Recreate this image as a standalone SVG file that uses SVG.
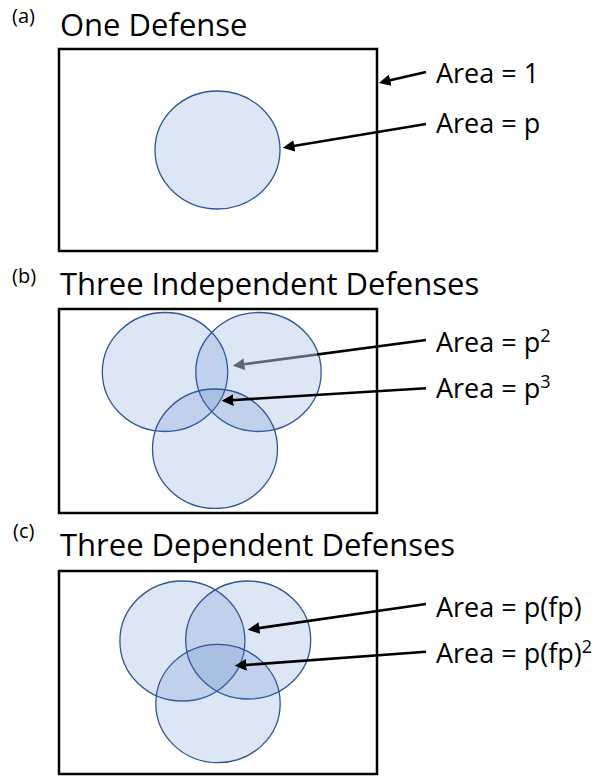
<svg xmlns="http://www.w3.org/2000/svg" width="597" height="776" viewBox="0 0 597 776">
<style>
text{font-family:"Open Sans","Liberation Sans",sans-serif;fill:#000}
.tag{font-size:20px}
.title{font-size:31px}
.lbl{font-size:27px}
.sup{font-size:18px}
.frame{fill:#fff;stroke:#000;stroke-width:2.5}
.ell{fill:#4472c4;fill-opacity:0.18;stroke:#2f5597;stroke-width:1.3}
.arr{fill:none;stroke:#000;stroke-width:2.6;marker-end:url(#ah)}
</style>
<defs>
<marker id="ah" viewBox="0 0 10 10" refX="2" refY="5" markerWidth="4.5" markerHeight="4.5" orient="auto" markerUnits="strokeWidth"><path d="M0,0 L10,5 L0,10 z" fill="#000"/></marker>
<marker id="ahg" viewBox="0 0 10 10" refX="2" refY="5" markerWidth="4.5" markerHeight="4.5" orient="auto" markerUnits="strokeWidth"><path d="M0,0 L10,5 L0,10 z" fill="#5e6670"/></marker>
<linearGradient id="gp2" gradientUnits="userSpaceOnUse" x1="426" y1="340" x2="231" y2="366">
<stop offset="0" stop-color="#000"/><stop offset="0.56" stop-color="#000"/><stop offset="0.56" stop-color="#5e6670"/><stop offset="1" stop-color="#5e6670"/>
</linearGradient>
</defs>

<g id="panel-a">
<text class="tag" x="12" y="23">(a)</text>
<text class="title" x="60" y="36">One Defense</text>
<rect class="frame" x="59" y="49" width="318" height="202"/>
<ellipse id="a-circle" class="ell" cx="217.5" cy="150" rx="62.5" ry="59"/>
<text class="lbl" x="436" y="83">Area = 1</text>
<text class="lbl" x="436" y="133">Area = p</text>
</g>

<g id="panel-b">
<text class="tag" x="12" y="283">(b)</text>
<text class="title" x="60" y="295">Three Independent Defenses</text>
<rect class="frame" x="59" y="309" width="318" height="204"/>
<ellipse id="b-c1" class="ell" cx="165" cy="372" rx="62.7" ry="59.5"/>
<ellipse id="b-c2" class="ell" cx="258.5" cy="372" rx="62.7" ry="59.5"/>
<ellipse id="b-c3" class="ell" cx="215" cy="448.7" rx="62.5" ry="59.7"/>
<text class="lbl" x="436" y="352">Area = p<tspan class="sup" dy="-10">2</tspan></text>
<text class="lbl" x="436" y="398">Area = p<tspan class="sup" dy="-10">3</tspan></text>
</g>

<g id="panel-c">
<text class="tag" x="13" y="538">(c)</text>
<text class="title" x="60" y="556">Three Dependent Defenses</text>
<rect class="frame" x="59" y="571" width="318" height="203"/>
<ellipse id="c-c1" class="ell" cx="182.4" cy="641" rx="62.5" ry="60"/>
<ellipse id="c-c2" class="ell" cx="248.2" cy="640" rx="62.5" ry="59"/>
<ellipse id="c-c3" class="ell" cx="218" cy="703.5" rx="62.2" ry="59.2"/>
<text class="lbl" x="436" y="617">Area = p(fp)</text>
<text class="lbl" x="436" y="663">Area = p(fp)<tspan class="sup" dy="-10">2</tspan></text>
</g>

<g id="connectors">
<line class="arr" x1="426" y1="72" x2="388" y2="80.8"/>
<line class="arr" x1="426" y1="124" x2="292" y2="146.3"/>
<line x1="426" y1="340" x2="242" y2="364.5" stroke="url(#gp2)" stroke-width="2.6" marker-end="url(#ahg)"/>
<line class="arr" x1="426" y1="388.3" x2="231" y2="400.2"/>
<line class="arr" x1="426" y1="604" x2="257" y2="628.4"/>
<line class="arr" x1="426" y1="651.7" x2="244" y2="665.1"/>
</g>
</svg>
